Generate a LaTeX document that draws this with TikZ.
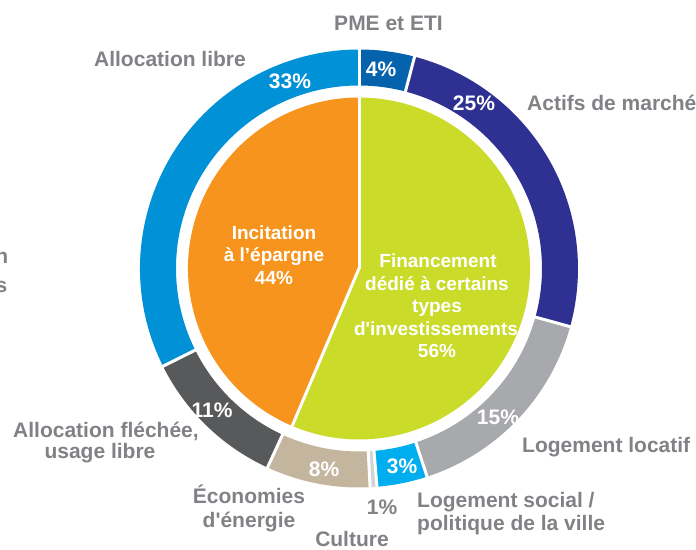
\documentclass[tikz,border=0pt]{standalone}
\usepackage{fontspec}
\newfontfamily\labfont{Liberation Sans}
\definecolor{labgrey}{HTML}{808285}
\definecolor{cPME}{HTML}{0563AD}
\definecolor{cAct}{HTML}{2E3192}
\definecolor{cLoc}{HTML}{A7A9AC}
\definecolor{cSoc}{HTML}{00AEEF}
\definecolor{cCul}{HTML}{D1D3D4}
\definecolor{cEco}{HTML}{C4B59F}
\definecolor{cFle}{HTML}{58595B}
\definecolor{cLib}{HTML}{0091D6}
\definecolor{cOra}{HTML}{F7941D}
\definecolor{cGre}{HTML}{CADB2A}
\tikzset{
  greylab/.style={font=\labfont\bfseries\fontsize{21}{25}\selectfont, text=labgrey, inner sep=0pt, anchor=base},
  ringlab/.style={font=\labfont\bfseries\fontsize{21}{25}\selectfont, text=white, inner sep=0pt, anchor=base},
  pielab/.style={font=\labfont\bfseries\fontsize{19}{23}\selectfont, text=white, inner sep=0pt, anchor=base},
  sep/.style={draw=white, line width=3pt}
}
\begin{document}
\begin{tikzpicture}[x=1pt,y=-1pt]
\useasboundingbox (0,0) rectangle (696,549);
\coordinate (c) at (359,268.5);
\begin{scope}[shift={(c)}]
  % outer ring
  \foreach \a/\b/\col in {-90/-75.3/cPME, -75.3/15.4/cAct, 15.4/71.9/cLoc, 71.9/85.3/cSoc, 85.3/87.1/cCul, 87.1/114.7/cEco, 114.7/153.5/cFle, 153.5/270/cLib}
    \fill[\col] (\a:219) arc[start angle=\a, end angle=\b, radius=219] -- (\b:183) arc[start angle=\b, end angle=\a, radius=183] -- cycle;
  \foreach \a in {-90,-75.3,15.4,71.9,85.3,87.1,114.7,153.5}
    \draw[sep] (\a:181) -- (\a:221);
  % inner pie
  \fill[cOra] (0,0) -- (113:171) arc[start angle=113, end angle=270, radius=171] -- cycle;
  \fill[cGre] (0,0) -- (-90:171) arc[start angle=-90, end angle=113, radius=171] -- cycle;
  \foreach \a in {-90,113}
    \draw[sep] (0,0) -- (\a:172);
\end{scope}
% ring percentages
\node[ringlab] (p4) at (381,76) {4\%};
\node[ringlab] (p25) at (474,110) {25\%};
\node[ringlab] (p15) at (498,424) {15\%};
\node[ringlab] (p3) at (402,473) {3\%};
\node[ringlab] (p8) at (324,476) {8\%};
\node[ringlab] (p11) at (212,417) {11\%};
\node[ringlab] (p33) at (290,88) {33\%};
% pie labels
\node[pielab] (inc1) at (274,239) {Incitation};
\node[pielab] (inc2) at (274,261) {à l’épargne};
\node[pielab] (inc3) at (274,284) {44\%};
\node[pielab] (fin1) at (438,267) {Financement};
\node[pielab] (fin2) at (437,290) {dédié à certains};
\node[pielab] (fin3) at (437,312) {types};
\node[pielab] (fin4) at (436,335) {d'investissements};
\node[pielab] (fin5) at (437,357) {56\%};
% outer labels
\node[greylab] (pme) at (388.5,30) {PME et ETI};
\node[greylab, anchor=base west] (actifs) at (527,110) {Actifs de marché};
\node[greylab, anchor=base west] (locatif) at (522,452) {Logement locatif};
\node[greylab, anchor=base west] (social1) at (417,507) {Logement social /};
\node[greylab, anchor=base west] (social2) at (417,530) {politique de la ville};
\node[greylab] (one) at (382,514) {1\%};
\node[greylab] (culture) at (352,546) {Culture};
\node[greylab] (eco1) at (249,503) {Économies};
\node[greylab] (eco2) at (249,527) {d'énergie};
\node[greylab] (fle1) at (106,437) {Allocation fléchée,};
\node[greylab] (fle2) at (100,458) {usage libre};
\node[greylab] (libre) at (170,66) {Allocation libre};
\node[greylab, anchor=base east] (cutn) at (8.5,263) {n};
\node[greylab, anchor=base east] (cuts) at (7.5,292) {s};
\end{tikzpicture}
\end{document}
